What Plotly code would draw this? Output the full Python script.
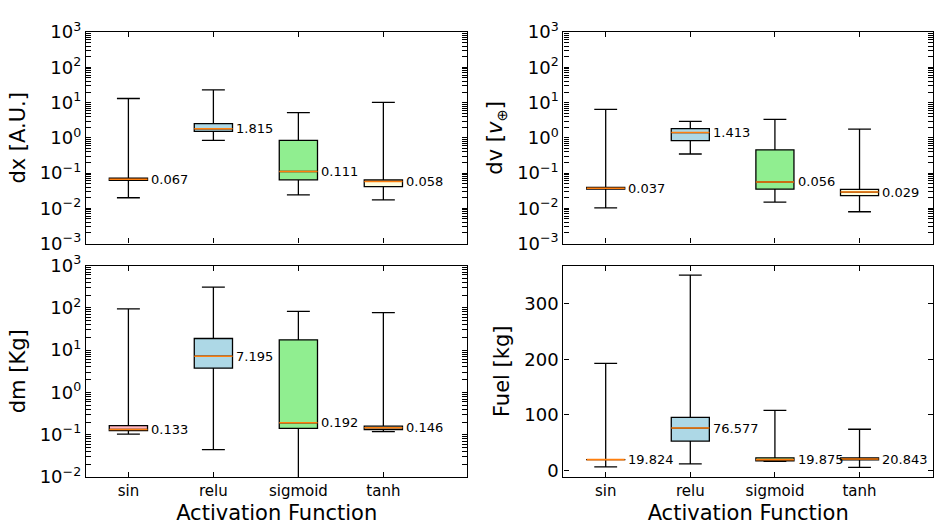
import math
import plotly.graph_objects as go

categories = ["sin", "relu", "sigmoid", "tanh"]
positions = [1, 2, 3, 4]
box_colors = ["#FFB6C1", "#ADD8E6", "#90EE90", "#FFFFE0"]

# dx [A.U.]
dx_low = [0.020, 0.845, 0.024, 0.0175]
dx_q1 = [0.062, 1.52, 0.0645, 0.0414]
dx_med = [0.067, 1.815, 0.111, 0.058]
dx_q3 = [0.072, 2.53, 0.845, 0.0645]
dx_high = [13.1, 23.0, 5.2, 10.2]

# dv
dv_low = [0.0103, 0.348, 0.0151, 0.008]
dv_q1 = [0.035, 0.83, 0.035, 0.0229]
dv_med = [0.037, 1.413, 0.056, 0.029]
dv_q3 = [0.039, 1.84, 0.458, 0.0345]
dv_high = [6.4, 2.93, 3.33, 1.77]

# dm [Kg]
dm_low = [0.104, 0.0445, 0.005, 0.119]
dm_q1 = [0.126, 3.76, 0.142, 0.132]
dm_med = [0.133, 7.195, 0.192, 0.146]
dm_q3 = [0.164, 18.9, 17.6, 0.160]
dm_high = [94.6, 308.0, 82.4, 76.9]

# Fuel [kg]
fu_low = [6.9, 12.0, 16.5, 5.7]
fu_q1 = [19.7, 53.2, 17.7, 19.5]
fu_med = [19.824, 76.577, 19.875, 20.843]
fu_q3 = [19.95, 95.6, 23.0, 23.0]
fu_high = [192.9, 351.5, 108.2, 74.4]

log_ticks_a = [-3, -2, -1, 0, 1, 2, 3]
log_ticks_b = [-2, -1, 0, 1, 2, 3]
fuel_ticks = [0, 100, 200, 300]

FONT = "DejaVu Sans"
BOX_W = 0.45
W, H = 934, 532

panels = [
    dict(low=dx_low, q1=dx_q1, med=dx_med, q3=dx_q3, high=dx_high, log=True,
         ticks=log_ticks_a, rng=[-3, 3], title="dx [A.U.]",
         xd=[86 / W, 468 / W], yd=[1 - 241 / H, 1 - 20 / H], xr=[0.5, 4.99], bottom=False),
    dict(low=dv_low, q1=dv_q1, med=dv_med, q3=dv_q3, high=dv_high, log=True,
         ticks=log_ticks_a, rng=[-3, 3], title="dv [<i>v</i><sub>⊕</sub>]",
         xd=[564 / W, 1.0], yd=[1 - 241 / H, 1 - 20 / H], xr=[0.5, 0.5 + 370 / 84.7], bottom=False),
    dict(low=dm_low, q1=dm_q1, med=dm_med, q3=dm_q3, high=dm_high, log=True,
         ticks=log_ticks_b, rng=[-2, 3], title="dm [Kg]",
         xd=[86 / W, 468 / W], yd=[1 - 485 / H, 1 - 264 / H], xr=[0.5, 4.99], bottom=True),
    dict(low=fu_low, q1=fu_q1, med=fu_med, q3=fu_q3, high=fu_high, log=False,
         ticks=fuel_ticks, rng=[-11.5, 368.5], title="Fuel [kg]",
         xd=[564 / W, 1.0], yd=[1 - 485 / H, 1 - 264 / H], xr=[0.5, 0.5 + 370 / 84.7], bottom=True),
]

fig = go.Figure()
annotations = []
layout = {}

def sup(k):
    s = str(k).replace("-", "−")
    return f"10<sup>{s}</sup>"

for pi, p in enumerate(panels):
    idx = "" if pi == 0 else str(pi + 1)
    xa, ya = "x" + idx, "y" + idx
    for i, cat in enumerate(categories):
        fig.add_trace(go.Box(
            x=[positions[i]], q1=[p["q1"][i]], median=[p["med"][i]], q3=[p["q3"][i]],
            lowerfence=[p["low"][i]], upperfence=[p["high"][i]],
            width=BOX_W, whiskerwidth=0.6, fillcolor=box_colors[i],
            line=dict(color="black", width=1.3), boxpoints=False,
            xaxis=xa, yaxis=ya, showlegend=False, hoverinfo="skip"))
    for i, cat in enumerate(categories):
        fig.add_trace(go.Scatter(
            x=[positions[i] - BOX_W / 2, positions[i] + BOX_W / 2],
            y=[p["med"][i], p["med"][i]], mode="lines",
            line=dict(color="#ff7f0e", width=1.6),
            xaxis=xa, yaxis=ya, showlegend=False, hoverinfo="skip"))
        yv = math.log10(p["med"][i]) if p["log"] else p["med"][i]
        annotations.append(dict(
            x=positions[i] + BOX_W / 2 + 0.02, y=yv, xref=xa, yref=ya,
            text=f"{p['med'][i]:.3f}", showarrow=False, xanchor="left", yanchor="middle",
            font=dict(family=FONT, size=13, color="black")))

    xaxis = dict(
        domain=p["xd"], anchor=ya, range=p["xr"], tickmode="array", tickvals=positions,
        ticktext=categories, showticklabels=p["bottom"], ticks="inside", ticklen=5,
        tickwidth=1.2, tickcolor="black", showline=True, linecolor="black", linewidth=1.3,
        mirror="ticks", showgrid=False, zeroline=False,
        tickfont=dict(family=FONT, size=15, color="black"))
    if p["bottom"]:
        xaxis["title"] = dict(text="Activation Function", standoff=6,
                              font=dict(family=FONT, size=21, color="black"))
    if p["log"]:
        minor_vals = [m * 10 ** k for k in range(int(p["rng"][0]), int(p["rng"][1]))
                      for m in range(2, 10)]
        yaxis = dict(
            domain=p["yd"], anchor=xa, type="log", range=p["rng"], tickmode="array",
            tickvals=[10 ** k for k in p["ticks"]], ticktext=[sup(k) for k in p["ticks"]],
            minor=dict(tickmode="array", tickvals=minor_vals, ticks="inside", ticklen=5,
                       tickwidth=1, tickcolor="black", showgrid=False))
    else:
        yaxis = dict(domain=p["yd"], anchor=xa, range=p["rng"], tickmode="array",
                     tickvals=p["ticks"], ticktext=[str(v) for v in p["ticks"]])
    yaxis.update(
        ticks="inside", ticklen=5, tickwidth=1.2, tickcolor="black", showline=True,
        linecolor="black", linewidth=1.3, mirror="ticks",
        showgrid=False, zeroline=False,
        tickfont=dict(family=FONT, size=18, color="black"),
        title=dict(text=p["title"], standoff=8, font=dict(family=FONT, size=21, color="black")))
    layout["xaxis" + idx] = xaxis
    layout["yaxis" + idx] = yaxis

fig.update_layout(
    width=W, height=H, margin=dict(l=0, r=0, t=0, b=0),
    paper_bgcolor="white", plot_bgcolor="white", boxmode="overlay",
    annotations=annotations, font=dict(family=FONT, color="black"), **layout)

fig.write_html("out.html")
